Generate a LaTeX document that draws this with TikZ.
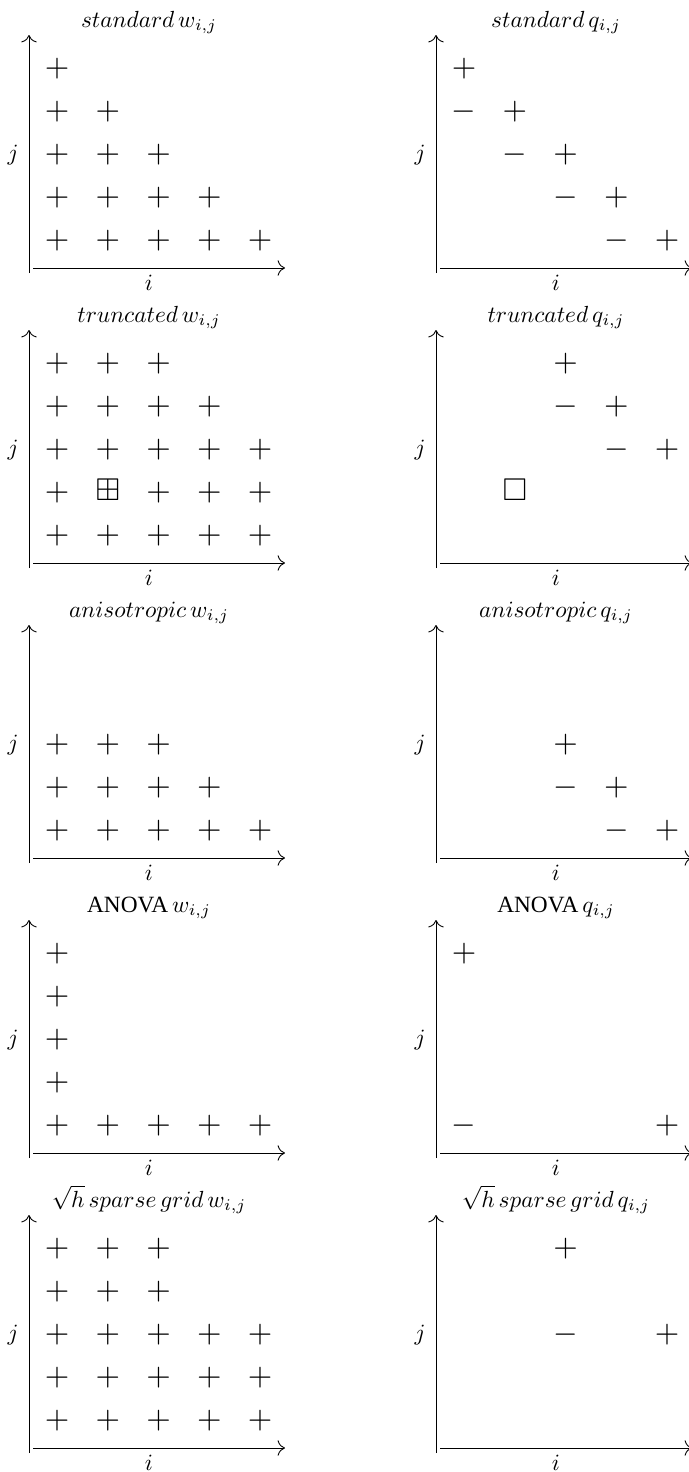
\documentclass[tikz,border=0pt]{standalone}
\usepackage{amssymb}
\usepackage{graphicx}
\usepackage{fontspec}
\newfontfamily\anovafont{Liberation Serif}
\usetikzlibrary{arrows.meta}
\tikzset{
  mk/.style={font=\normalsize, inner sep=0pt, anchor=base, yshift=-3.375pt},
  lbl/.style={font=\normalsize, inner sep=0pt, anchor=base},
  axisline/.style={line width=0.38pt, -{Computer Modern Rightarrow[scale=1.3]}},
}
\newcommand{\mypanel}[4]{%
  \begin{scope}[shift={(#1,#2)}]
    \coordinate (#4-vb) at (29,273);
    \coordinate (#4-vt) at (29,35);
    \coordinate (#4-hl) at (33,268);
    \coordinate (#4-hr) at (285,268);
    \draw[axisline] (#4-vb) -- (#4-vt);
    \draw[axisline] (#4-hl) -- (#4-hr);
    \node[lbl] (#4-t) at (149,27) {#3};
    \node[lbl] (#4-i) at (149,290.5) {$i$};
    \node[lbl] (#4-j) at (13,160.5) {$j$};
  \end{scope}}
\newcommand{\mrk}[6]{\node[mk] (#1) at ({#2+57+50.75*(#4)},{#3+69+43*(#5)}) {\scalebox{1.35}{$#6$}};}
\begin{document}
\begin{tikzpicture}[x=0.429pt, y=-0.429pt]
\useasboundingbox (0,0) rectangle (688,1472);
% ---------- panel A: standard
\mypanel{0}{0}{$standard\,w_{i,j}$}{aw}
\mypanel{407}{0}{$standard\,q_{i,j}$}{aq}
\foreach \r in {0,...,4} {\foreach \c in {0,...,\r} {\mrk{aw-\c-\r}{0}{0}{\c}{\r}{+}}}
\foreach \r in {0,...,4} {\mrk{aq-p-\r}{407}{0}{\r}{\r}{+}}
\foreach \r in {1,...,4} {\mrk{aq-m-\r}{407}{0}{\r-1}{\r}{-}}
% ---------- panel B: truncated
\mypanel{0}{295}{$truncated\,w_{i,j}$}{bw}
\mypanel{407}{295}{$truncated\,q_{i,j}$}{bq}
\foreach \c in {0,1,2} {\mrk{bw-\c-0}{0}{295}{\c}{0}{+}}
\foreach \c in {0,1,2,3} {\mrk{bw-\c-1}{0}{295}{\c}{1}{+}}
\foreach \c in {0,...,4} {\mrk{bw-\c-2}{0}{295}{\c}{2}{+}}
\foreach \c in {0,2,3,4} {\mrk{bw-\c-3}{0}{295}{\c}{3}{+}}
\mrk{bw-1-3}{0}{295}{1}{3}{\boxplus}
\foreach \c in {0,...,4} {\mrk{bw-\c-4}{0}{295}{\c}{4}{+}}
\mrk{bq-p0}{407}{295}{2}{0}{+}
\mrk{bq-m1}{407}{295}{2}{1}{-}
\mrk{bq-p1}{407}{295}{3}{1}{+}
\mrk{bq-m2}{407}{295}{3}{2}{-}
\mrk{bq-p2}{407}{295}{4}{2}{+}
\mrk{bq-sq}{407}{295}{1}{3}{\square}
% ---------- panel C: anisotropic
\mypanel{0}{590}{$anisotropic\,w_{i,j}$}{cw}
\mypanel{407}{590}{$anisotropic\,q_{i,j}$}{cq}
\foreach \c in {0,1,2} {\mrk{cw-\c-2}{0}{590}{\c}{2}{+}}
\foreach \c in {0,1,2,3} {\mrk{cw-\c-3}{0}{590}{\c}{3}{+}}
\foreach \c in {0,...,4} {\mrk{cw-\c-4}{0}{590}{\c}{4}{+}}
\mrk{cq-p2}{407}{590}{2}{2}{+}
\mrk{cq-m3}{407}{590}{2}{3}{-}
\mrk{cq-p3}{407}{590}{3}{3}{+}
\mrk{cq-m4}{407}{590}{3}{4}{-}
\mrk{cq-p4}{407}{590}{4}{4}{+}
% ---------- panel D: ANOVA
\mypanel{0}{885}{{\anovafont ANOVA}$\,w_{i,j}$}{dw}
\mypanel{407}{885}{{\anovafont ANOVA}$\,q_{i,j}$}{dq}
\foreach \r in {0,...,4} {\mrk{dw-0-\r}{0}{885}{0}{\r}{+}}
\foreach \c in {1,...,4} {\mrk{dw-\c-4}{0}{885}{\c}{4}{+}}
\mrk{dq-p0}{407}{885}{0}{0}{+}
\mrk{dq-m4}{407}{885}{0}{4}{-}
\mrk{dq-p4}{407}{885}{4}{4}{+}
% ---------- panel E: sqrt h sparse grid
\mypanel{0}{1180}{$\sqrt{h}\,sparse\,grid\,w_{i,j}$}{ew}
\mypanel{407}{1180}{$\sqrt{h}\,sparse\,grid\,q_{i,j}$}{eq}
\foreach \r in {0,1} {\foreach \c in {0,1,2} {\mrk{ew-\c-\r}{0}{1180}{\c}{\r}{+}}}
\foreach \r in {2,3,4} {\foreach \c in {0,...,4} {\mrk{ew-\c-\r}{0}{1180}{\c}{\r}{+}}}
\mrk{eq-p0}{407}{1180}{2}{0}{+}
\mrk{eq-m2}{407}{1180}{2}{2}{-}
\mrk{eq-p2}{407}{1180}{4}{2}{+}
\end{tikzpicture}
\end{document}
